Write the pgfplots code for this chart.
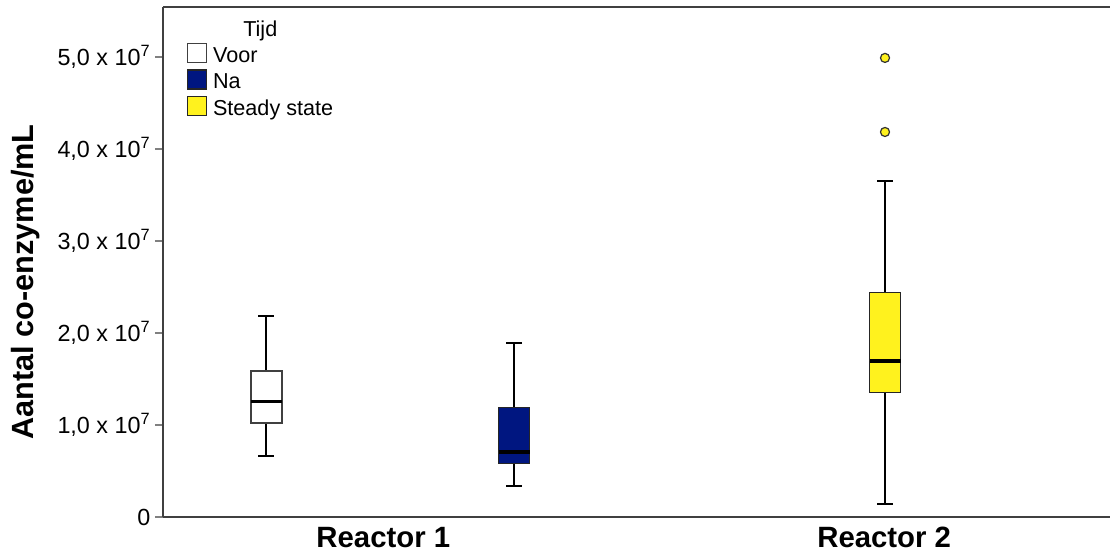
\documentclass[border=0pt]{standalone}
\usepackage{fontspec}
\setmainfont{Liberation Sans}
\usepackage{pgfplots}
\pgfplotsset{compat=1.18}
\usepgfplotslibrary{statistics}
\definecolor{navy}{RGB}{0,22,128}
\definecolor{yel}{RGB}{255,242,30}
\definecolor{axgray}{RGB}{64,64,64}
\begin{document}
\begin{tikzpicture}
\begin{axis}[
 width=710.25pt, height=382.5pt, scale only axis,
 xmin=163, xmax=1110, ymin=0, ymax=5.5435,
 axis x line=box, axis y line=left,
 axis line style={-, line width=1.2pt, color=axgray},
 xtick={383.3,884.2}, xticklabels={Reactor 1, Reactor 2},
 x tick label style={font=\fontsize{22}{22}\selectfont\bfseries, inner sep=0pt, anchor=north, yshift=-1.5pt},
 major x tick style={draw=none},
 ytick={0,1,2,3,4,5},
 yticklabels={0, {1,0 x 10\textsuperscript{7}}, {2,0 x 10\textsuperscript{7}}, {3,0 x 10\textsuperscript{7}}, {4,0 x 10\textsuperscript{7}}, {5,0 x 10\textsuperscript{7}}},
 y tick label style={font=\fontsize{17.5}{17.5}\selectfont},
 tick align=outside, major tick length=6pt,
 major y tick style={gray, line width=0.8pt},
 ylabel={Aantal co-enzyme/mL},
 every axis y label/.style={at={(rel axis cs:-0.1452,0.461)}, rotate=90, anchor=center, font=\fontsize{23}{23}\selectfont\bfseries},
 boxplot/draw direction=y,
 legend cell align=left,
 legend image code/.code={\draw[#1, line width=1pt] (0pt,-4.7pt) rectangle (14.25pt,9.55pt);},
 legend style={at={(axis cs:187,5.152)}, anchor=north west, draw=none, fill=none, inner sep=0pt, outer sep=0pt, row sep=2.2pt, column sep=4.3pt,
   nodes={inner sep=0pt, font=\fontsize{16.2}{16.2}\selectfont, text height=12pt, text depth=3pt}},
]
\coordinate (O) at (rel axis cs:0,0);
% Reactor 1 - Voor
\addplot[forget plot, draw=axgray, fill=white, line width=1.1pt,
  boxplot prepared={draw position=266.5, lower whisker=0.66, lower quartile=1.022, median=1.258, upper quartile=1.587, upper whisker=2.19, box extend=31, whisker extend=16},
  boxplot/every median/.style={draw=black, line width=2.4pt},
  boxplot/every whisker/.style={draw=black, line width=1.5pt}] coordinates {};
% Reactor 1 - Na
\addplot[forget plot, draw=black!85, fill=navy, line width=1.1pt,
  boxplot prepared={draw position=514, lower whisker=0.34, lower quartile=0.58, median=0.707, upper quartile=1.188, upper whisker=1.89, box extend=31, whisker extend=16},
  boxplot/every median/.style={draw=black, line width=2.4pt},
  boxplot/every whisker/.style={draw=black, line width=1.5pt}] coordinates {};
% Reactor 2 - Steady state
\addplot[forget plot, draw=black!85, fill=yel, line width=1.1pt,
  mark=*, mark size=3.4pt, mark options={fill=yel, draw=black!80, line width=0.9pt},
  boxplot prepared={draw position=885, lower whisker=0.138, lower quartile=1.355, median=1.696, upper quartile=2.442, upper whisker=3.649, box extend=31, whisker extend=16},
  boxplot/every median/.style={draw=black, line width=2.4pt},
  boxplot/every whisker/.style={draw=black, line width=1.5pt}] coordinates {(0,4.99) (0,4.185)};
\addlegendimage{draw=axgray, fill=white}
\addlegendentry{Voor}
\addlegendimage{draw=black!85, fill=navy}
\addlegendentry{Na}
\addlegendimage{draw=black!85, fill=yel}
\addlegendentry{Steady state}
\node[anchor=base west, font=\fontsize{16.2}{16.2}\selectfont, inner sep=0pt] at (axis cs:243,5.228) {Tijd};
\end{axis}
\pgfresetboundingbox
\path (O) ++(-122.25pt,-27.75pt) rectangle ++(832.5pt,415.5pt);
\end{tikzpicture}
\end{document}
